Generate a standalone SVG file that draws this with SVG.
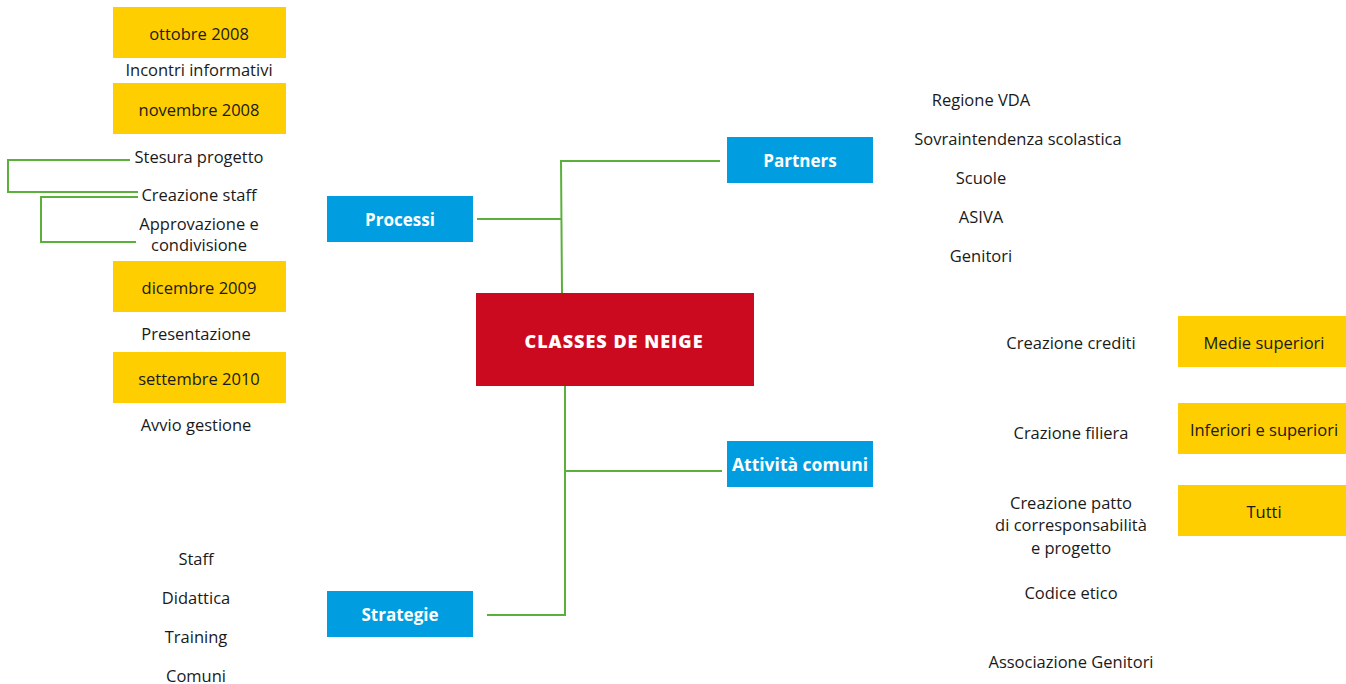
<svg xmlns="http://www.w3.org/2000/svg" width="1346" height="684" viewBox="0 0 1346 684">
<style>
.y{fill:#FECE00}
.b{fill:#009EE0}
.t{font-family:"Open Sans","Liberation Sans",sans-serif;font-size:16.5px;fill:#1a1a1a;text-anchor:middle;dominant-baseline:central}
.w{font-family:"Open Sans","Liberation Sans",sans-serif;font-size:17px;font-weight:bold;fill:#fff;text-anchor:middle;dominant-baseline:central}
.c{fill:none;stroke:#5BB03C;stroke-width:2}
</style>
<rect width="1346" height="684" fill="#fff"/>
<g id="connectors">
<polyline class="c" points="477,219 561,219"/>
<polyline class="c" points="720,161 561,161 562,293"/>
<polyline class="c" points="565,386 565,615 487,615"/>
<polyline class="c" points="565,471 722,471"/>
<polyline class="c" points="130,160 8,160 8,192 138,192"/>
<polyline class="c" points="138,197 41,197 41,242 136,242"/>
</g>
<g id="center"><rect x="476" y="293" width="278" height="93" fill="#CC0A1F"/><text class="w" x="614" y="341" style="font-size:18px;font-weight:900;letter-spacing:1px">CLASSES DE NEIGE</text></g>
<g id="processi"><rect class="b" x="327" y="196" width="146" height="46"/><text class="w" x="400" y="219">Processi</text></g>
<g id="partners"><rect class="b" x="727" y="137" width="146" height="46"/><text class="w" x="800" y="160">Partners</text></g>
<g id="attivita"><rect class="b" x="727" y="441" width="146" height="46"/><text class="w" x="800" y="464" style="font-size:17.5px">Attività comuni</text></g>
<g id="strategie"><rect class="b" x="327" y="591" width="146" height="46"/><text class="w" x="400" y="614">Strategie</text></g>
<g id="ottobre"><rect class="y" x="113" y="7" width="173" height="51"/><text class="t" x="199" y="33">ottobre 2008</text></g>
<g id="incontri"><text class="t" x="199" y="69">Incontri informativi</text></g>
<g id="novembre"><rect class="y" x="113" y="83" width="173" height="51"/><text class="t" x="199" y="109">novembre 2008</text></g>
<g id="stesura"><text class="t" x="199" y="156">Stesura progetto</text></g>
<g id="creazione-staff"><text class="t" x="199" y="194">Creazione staff</text></g>
<g id="approvazione"><text class="t" x="199" y="223">Approvazione e</text><text class="t" x="199" y="244">condivisione</text></g>
<g id="dicembre"><rect class="y" x="113" y="261" width="173" height="51"/><text class="t" x="199" y="287">dicembre 2009</text></g>
<g id="presentazione"><text class="t" x="196" y="333">Presentazione</text></g>
<g id="settembre"><rect class="y" x="113" y="352" width="173" height="51"/><text class="t" x="199" y="378">settembre 2010</text></g>
<g id="avvio"><text class="t" x="196" y="424">Avvio gestione</text></g>
<g id="regione"><text class="t" x="981" y="99">Regione VDA</text></g>
<g id="sovraintendenza"><text class="t" x="1018" y="138">Sovraintendenza scolastica</text></g>
<g id="scuole"><text class="t" x="981" y="177">Scuole</text></g>
<g id="asiva"><text class="t" x="981" y="216">ASIVA</text></g>
<g id="genitori"><text class="t" x="981" y="255">Genitori</text></g>
<g id="crediti"><text class="t" x="1071" y="342">Creazione crediti</text></g>
<g id="medie"><rect class="y" x="1178" y="316" width="168" height="51"/><text class="t" x="1264" y="342">Medie superiori</text></g>
<g id="filiera"><text class="t" x="1071" y="432">Crazione filiera</text></g>
<g id="inferiori"><rect class="y" x="1178" y="403" width="168" height="51"/><text class="t" x="1264" y="429">Inferiori e superiori</text></g>
<g id="patto"><text class="t" x="1071" y="502">Creazione patto</text><text class="t" x="1071" y="524">di corresponsabilità</text><text class="t" x="1071" y="547">e progetto</text></g>
<g id="tutti"><rect class="y" x="1178" y="485" width="168" height="51"/><text class="t" x="1264" y="511">Tutti</text></g>
<g id="codice"><text class="t" x="1071" y="592">Codice etico</text></g>
<g id="associazione"><text class="t" x="1071" y="661">Associazione Genitori</text></g>
<g id="staff"><text class="t" x="196" y="558">Staff</text></g>
<g id="didattica"><text class="t" x="196" y="597">Didattica</text></g>
<g id="training"><text class="t" x="196" y="636">Training</text></g>
<g id="comuni"><text class="t" x="196" y="675">Comuni</text></g>
</svg>
